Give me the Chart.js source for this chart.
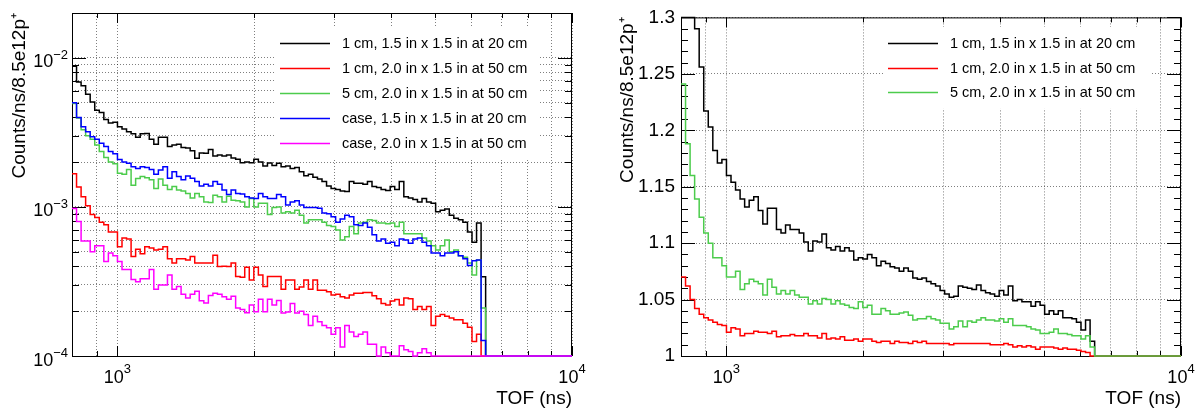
<!DOCTYPE html>
<html>
<head>
<meta charset="utf-8">
<script src="https://cdn.jsdelivr.net/npm/chart.js@4.4.1/dist/chart.umd.min.js"></script>
<style>
  body { margin: 0; background: #fff; }
  #wrap { position: relative; width: 1201px; height: 410px; }
  canvas { position: absolute; top: 0; }
  #left { left: 0; }
  #right { left: 600px; }
</style>
</head>
<body>
<div id="wrap">
  <canvas id="left" width="600" height="410"></canvas>
  <canvas id="right" width="601" height="410"></canvas>
</div>
<script>
const FONT = "'Liberation Sans', Arial, sans-serif";

// TOF histogram binning: 0.01 decade wide bins from 10^2.9 to 10^4 ns
const BIN_LO = 2.9;
const BIN_W = 0.01;
const N_BINS = 110;
const binEdges = Array.from({ length: N_BINS + 1 }, (_, i) => Math.pow(10, BIN_LO + i * BIN_W));

const labels = [
  "1 cm, 1.5 in x 1.5 in at 20 cm",
  "1 cm, 2.0 in x 1.5 in at 50 cm",
  "5 cm, 2.0 in x 1.5 in at 50 cm",
  "case, 1.5 in x 1.5 in at 20 cm",
  "case, 2.0 in x 1.5 in at 50 cm"
];
const colors = ["#000000", "#ff0000", "#4ccc4c", "#0000ff", "#ff00ff"];

// left panel: counts/ns/8.5e12p+
const rate1cm15at20 = [
  8.8e-3, 6.9e-3, 6.5e-3, 5.7e-3, 5.06e-3, 4.46e-3, 4.3e-3, 3.86e-3, 3.65e-3, 3.7e-3,
  3.45e-3, 3.33e-3, 3.2e-3, 3.1e-3, 2.93e-3, 3.1e-3, 3.11e-3, 2.85e-3, 2.63e-3, 2.93e-3,
  2.93e-3, 2.54e-3, 2.6e-3, 2.63e-3, 2.5e-3, 2.49e-3, 2.38e-3, 2.12e-3, 2.3e-3, 2.29e-3,
  2.43e-3, 2.2e-3, 2.23e-3, 2.2e-3, 2.23e-3, 2.13e-3, 2.09e-3, 1.98e-3, 2.0e-3, 1.98e-3,
  2.09e-3, 2.0e-3, 1.88e-3, 1.97e-3, 1.9e-3, 1.96e-3, 1.86e-3, 1.88e-3, 1.81e-3, 1.84e-3,
  1.72e-3, 1.62e-3, 1.66e-3, 1.58e-3, 1.54e-3, 1.48e-3, 1.38e-3, 1.33e-3, 1.31e-3, 1.28e-3,
  1.27e-3, 1.48e-3, 1.44e-3, 1.44e-3, 1.42e-3, 1.48e-3, 1.37e-3, 1.35e-3, 1.31e-3, 1.29e-3,
  1.37e-3, 1.31e-3, 1.48e-3, 1.17e-3, 1.15e-3, 1.12e-3, 1.08e-3, 1.14e-3, 1.08e-3, 1.06e-3,
  9.3e-4, 9.5e-4, 9.7e-4, 8.8e-4, 8.4e-4, 8.2e-4, 7.9e-4, 6.8e-4, 5.8e-4, 7.8e-4,
  3.4e-4, 0, 0, 0, 0, 0, 0, 0, 0, 0,
  0, 0, 0, 0, 0, 0, 0, 0, 0, 0
];
const rate1cm20at50 = [
  1.67e-3, 1.36e-3, 1.17e-3, 1.02e-3, 8.9e-4, 8.5e-4, 7.9e-4, 7.6e-4, 6.8e-4, 6.8e-4,
  5.4e-4, 6.2e-4, 6.1e-4, 4.65e-4, 5.2e-4, 4.85e-4, 5.4e-4, 5.3e-4, 5.15e-4, 5.2e-4,
  5.4e-4, 4.5e-4, 4.2e-4, 4.5e-4, 4.5e-4, 4.4e-4, 4.65e-4, 4.2e-4, 4.2e-4, 4.2e-4,
  4.2e-4, 4.75e-4, 3.98e-4, 4.0e-4, 3.98e-4, 4.2e-4, 3.42e-4, 3.37e-4, 3.94e-4, 3.24e-4,
  3.94e-4, 3.5e-4, 2.93e-4, 3.42e-4, 3.42e-4, 3.42e-4, 2.8e-4, 3.24e-4, 3.24e-4, 2.8e-4,
  2.9e-4, 3.24e-4, 2.8e-4, 3.24e-4, 2.76e-4, 2.76e-4, 2.7e-4, 2.57e-4, 2.6e-4, 2.5e-4,
  2.45e-4, 2.57e-4, 2.64e-4, 2.64e-4, 2.67e-4, 2.67e-4, 2.54e-4, 2.42e-4, 2.25e-4, 2.2e-4,
  2.34e-4, 2.39e-4, 2.2e-4, 2.45e-4, 2.42e-4, 2.05e-4, 2.15e-4, 2.05e-4, 2.15e-4, 1.6e-4,
  1.85e-4, 1.9e-4, 1.85e-4, 1.8e-4, 1.75e-4, 1.75e-4, 1.66e-4, 1.56e-4, 1.25e-4, 1.4e-4,
  0, 0, 0, 0, 0, 0, 0, 0, 0, 0,
  0, 0, 0, 0, 0, 0, 0, 0, 0, 0
];
const rate5cm20at50 = [
  4.95e-3, 3.95e-3, 3.3e-3, 3.0e-3, 2.85e-3, 2.6e-3, 2.35e-3, 2.15e-3, 2.0e-3, 1.95e-3,
  1.68e-3, 1.66e-3, 1.78e-3, 1.4e-3, 1.55e-3, 1.6e-3, 1.57e-3, 1.52e-3, 1.33e-3, 1.54e-3,
  1.4e-3, 1.31e-3, 1.37e-3, 1.3e-3, 1.28e-3, 1.23e-3, 1.15e-3, 1.23e-3, 1.17e-3, 1.08e-3,
  1.07e-3, 1.2e-3, 1.17e-3, 1.08e-3, 1.18e-3, 1.11e-3, 1.1e-3, 1.08e-3, 1.0e-3, 1.14e-3,
  1.0e-3, 1.06e-3, 1.06e-3, 8.9e-4, 9.9e-4, 1.0e-3, 9.1e-4, 9.3e-4, 9.1e-4, 9.5e-4,
  8.8e-4, 7.8e-4, 8.2e-4, 8.2e-4, 8.2e-4, 7.9e-4, 7.5e-4, 7.4e-4, 7.0e-4, 6.0e-4,
  6.3e-4, 7.4e-4, 6.6e-4, 7.8e-4, 7.9e-4, 8.2e-4, 8.1e-4, 7.8e-4, 7.8e-4, 7.7e-4,
  7.8e-4, 7.4e-4, 7.9e-4, 6.6e-4, 6.6e-4, 6.6e-4, 6.6e-4, 6.2e-4, 5.9e-4, 5.5e-4,
  5.15e-4, 5.5e-4, 6.0e-4, 5.0e-4, 5.15e-4, 4.7e-4, 4.6e-4, 4.2e-4, 3.5e-4, 4.4e-4,
  2.1e-4, 0, 0, 0, 0, 0, 0, 0, 0, 0,
  0, 0, 0, 0, 0, 0, 0, 0, 0, 0
];
const rateCase15at20 = [
  5.0e-3, 3.98e-3, 3.45e-3, 3.2e-3, 2.96e-3, 2.84e-3, 2.67e-3, 2.54e-3, 2.35e-3, 2.27e-3,
  2.08e-3, 2.0e-3, 1.96e-3, 1.86e-3, 1.81e-3, 1.86e-3, 1.84e-3, 1.78e-3, 1.66e-3, 1.77e-3,
  1.86e-3, 1.56e-3, 1.72e-3, 1.6e-3, 1.52e-3, 1.61e-3, 1.56e-3, 1.48e-3, 1.38e-3, 1.42e-3,
  1.38e-3, 1.48e-3, 1.42e-3, 1.3e-3, 1.21e-3, 1.3e-3, 1.23e-3, 1.22e-3, 1.17e-3, 1.15e-3,
  1.14e-3, 1.23e-3, 1.17e-3, 1.14e-3, 1.14e-3, 1.21e-3, 1.17e-3, 1.03e-3, 1.08e-3, 1.1e-3,
  1.03e-3, 9.9e-4, 9.9e-4, 9.9e-4, 9.8e-4, 9.1e-4, 9.0e-4, 8.6e-4, 7.9e-4, 8.3e-4,
  8.8e-4, 8.6e-4, 7.6e-4, 7.5e-4, 7.8e-4, 7.3e-4, 6.5e-4, 5.9e-4, 6.1e-4, 5.7e-4,
  5.8e-4, 5.5e-4, 6.1e-4, 6.0e-4, 5.7e-4, 6.1e-4, 6.2e-4, 5.8e-4, 5.5e-4, 4.9e-4,
  4.9e-4, 4.7e-4, 4.9e-4, 4.9e-4, 5.0e-4, 4.7e-4, 4.5e-4, 4.05e-4, 4.35e-4, 4.4e-4,
  1.27e-4, 0, 0, 0, 0, 0, 0, 0, 0, 0,
  0, 0, 0, 0, 0, 0, 0, 0, 0, 0
];
const rateCase20at50 = [
  9.75e-4, 8.0e-4, 5.9e-4, 5.9e-4, 5.0e-4, 5.5e-4, 5.5e-4, 4.3e-4, 4.9e-4, 4.7e-4,
  4.3e-4, 3.8e-4, 3.8e-4, 3.26e-4, 3.15e-4, 3.3e-4, 3.3e-4, 3.8e-4, 2.8e-4, 3.0e-4,
  3.0e-4, 3.5e-4, 2.8e-4, 2.93e-4, 2.6e-4, 2.45e-4, 2.6e-4, 2.72e-4, 2.35e-4, 2.27e-4,
  2.55e-4, 2.64e-4, 2.6e-4, 2.5e-4, 2.4e-4, 2.52e-4, 2.1e-4, 2.05e-4, 1.95e-4, 2.2e-4,
  1.98e-4, 2.4e-4, 1.98e-4, 2.4e-4, 2.2e-4, 2.36e-4, 1.94e-4, 1.97e-4, 2.25e-4, 1.94e-4,
  2.0e-4, 1.9e-4, 1.6e-4, 1.85e-4, 1.7e-4, 1.6e-4, 1.55e-4, 1.4e-4, 1.55e-4, 1.15e-4,
  1.6e-4, 1.45e-4, 1.35e-4, 1.4e-4, 1.45e-4, 1.2e-4, 1.2e-4, 0, 1.15e-4, 1.05e-4,
  0, 0, 1.17e-4, 1.1e-4, 1.07e-4, 0, 1.05e-4, 1.12e-4, 1.05e-4, 0,
  0, 0, 0, 0, 0, 0, 0, 0, 0, 0,
  0, 0, 0, 0, 0, 0, 0, 0, 0, 0,
  0, 0, 0, 0, 0, 0, 0, 0, 0, 0
];

// right panel: ratios
const ratio1cm15at20 = [
  1.38, 1.34, 1.31, 1.29, 1.256, 1.217, 1.203, 1.182, 1.171, 1.174,
  1.16, 1.154, 1.147, 1.139, 1.132, 1.138, 1.141, 1.129, 1.117, 1.131,
  1.131, 1.112, 1.109, 1.116, 1.112, 1.112, 1.109, 1.101, 1.093, 1.102,
  1.101, 1.108, 1.096, 1.094, 1.097, 1.093, 1.096, 1.093, 1.085, 1.087,
  1.086, 1.09, 1.087, 1.08, 1.084, 1.082, 1.079, 1.078, 1.075, 1.078,
  1.075, 1.069, 1.068, 1.069, 1.066, 1.064, 1.062, 1.058, 1.055, 1.052,
  1.053, 1.062, 1.061, 1.06, 1.059, 1.063, 1.058, 1.056, 1.055, 1.053,
  1.058, 1.054, 1.062, 1.049, 1.05, 1.048, 1.048, 1.044, 1.048, 1.045,
  1.037, 1.04, 1.037, 1.04, 1.034, 1.034, 1.033, 1.03, 1.023, 1.032,
  1.013, 0, 0, 0, 0, 0, 0, 0, 0, 0,
  0, 0, 0, 0, 0, 0, 0, 0, 0, 0
];
const ratio1cm20at50 = [
  1.07, 1.062, 1.05, 1.042, 1.037, 1.034, 1.032, 1.03, 1.028, 1.027,
  1.021, 1.025, 1.024, 1.018, 1.02, 1.02, 1.022, 1.021, 1.021, 1.02,
  1.022, 1.017, 1.018, 1.018, 1.019, 1.018, 1.018, 1.02, 1.018, 1.018,
  1.016, 1.02, 1.015, 1.016, 1.015, 1.017, 1.014, 1.014, 1.015, 1.013,
  1.015, 1.015, 1.013, 1.012, 1.013, 1.013, 1.011, 1.013, 1.012, 1.012,
  1.011, 1.013, 1.012, 1.013, 1.011, 1.011, 1.011, 1.011, 1.011, 1.01,
  1.011, 1.011, 1.011, 1.011, 1.011, 1.011, 1.011, 1.011, 1.01, 1.01,
  1.01, 1.011, 1.01, 1.008, 1.009, 1.008, 1.009, 1.008, 1.006, 1.008,
  1.008, 1.008, 1.007, 1.006, 1.007, 1.006, 1.006, 1.005, 1.004, 1.003,
  0, 0, 0, 0, 0, 0, 0, 0, 0, 0,
  0, 0, 0, 0, 0, 0, 0, 0, 0, 0
];
const ratio5cm20at50 = [
  1.241, 1.188, 1.16, 1.139, 1.123, 1.109, 1.1, 1.087, 1.087, 1.08,
  1.07, 1.07, 1.075, 1.059, 1.064, 1.068, 1.066, 1.064, 1.054, 1.068,
  1.061, 1.055, 1.058, 1.055, 1.058, 1.054, 1.052, 1.052, 1.046, 1.049,
  1.046, 1.051, 1.05, 1.046, 1.049, 1.046, 1.045, 1.043, 1.042, 1.048,
  1.043, 1.045, 1.037, 1.037, 1.042, 1.04, 1.037, 1.037, 1.038, 1.039,
  1.036, 1.032, 1.033, 1.033, 1.035, 1.033, 1.032, 1.029, 1.029, 1.024,
  1.026, 1.031, 1.026, 1.031, 1.03, 1.032, 1.034, 1.032, 1.032, 1.031,
  1.033, 1.03, 1.033, 1.027, 1.027, 1.027, 1.026, 1.024, 1.023, 1.02,
  1.02, 1.021, 1.024, 1.02, 1.02, 1.019, 1.018, 1.018, 1.015, 1.018,
  1.008, 0, 0, 0, 0, 0, 0, 0, 0, 0,
  0, 0, 0, 0, 0, 0, 0, 0, 0, 0
];

// axis ticks ("10" labels carry only their exponent here)
const xTicks = [900, 1000, 2000, 3000, 4000, 5000, 6000, 7000, 8000, 9000, 10000];
const xTickExp = ["", "3", "", "", "", "", "", "", "", "", "4"];
const yLogTicks = [
  1e-4, 2e-4, 3e-4, 4e-4, 5e-4, 6e-4, 7e-4, 8e-4, 9e-4,
  1e-3, 2e-3, 3e-3, 4e-3, 5e-3, 6e-3, 7e-3, 8e-3, 9e-3,
  1e-2, 2e-2
];
const yLogTickExp = [
  "\u22124", "", "", "", "", "", "", "", "",
  "\u22123", "", "", "", "", "", "", "", "",
  "\u22122", ""
];
const yRatioTicks = [1, 1.05, 1.1, 1.15, 1.2, 1.25, 1.3];
const yRatioTickLabels = ["1", "1.05", "1.1", "1.15", "1.2", "1.25", "1.3"];

// ROOT-like histogram outline: value held across each bin, under/overflow pinned to the frame
function histo(values, yMin, yMax) {
  const pts = values.map((v, i) => ({ x: binEdges[i], y: Math.min(Math.max(v, yMin), yMax) }));
  pts.push({ x: binEdges[N_BINS], y: pts[N_BINS - 1].y });
  return pts;
}

function makeDatasets(series, yMin, yMax) {
  return series.map((values, k) => ({
    label: labels[k],
    data: histo(values, yMin, yMax),
    borderColor: colors[k],
    borderWidth: 1.5,
    stepped: true,
    pointRadius: 0,
    fill: false,
    clip: false,
    order: series.length - k
  }));
}

// frame + inside tick marks, like a ROOT pad
const frameTicks = {
  id: "frameTicks",
  beforeDatasetsDraw(chart, args, opts) {
    const { ctx, chartArea: a, scales: { x, y } } = chart;
    ctx.save();
    ctx.strokeStyle = "#000";
    ctx.lineWidth = 1;
    ctx.beginPath();
    x.ticks.forEach(t => {
      const px = Math.round(x.getPixelForValue(t.value)) + 0.5;
      const len = t.major ? 10 : 5;
      ctx.moveTo(px, a.bottom); ctx.lineTo(px, a.bottom - len);
      ctx.moveTo(px, a.top); ctx.lineTo(px, a.top + len);
    });
    const yt = opts.minorStep
      ? Array.from({ length: Math.round((y.max - y.min) / opts.minorStep) + 1 }, (_, i) => {
          const v = y.min + i * opts.minorStep;
          return { value: v, major: Math.abs(v / opts.majorStep - Math.round(v / opts.majorStep)) < 1e-6 };
        })
      : y.ticks;
    yt.forEach(t => {
      const py = Math.round(y.getPixelForValue(t.value)) + 0.5;
      const len = t.major ? 14 : 7;
      ctx.moveTo(a.left, py); ctx.lineTo(a.left + len, py);
      ctx.moveTo(a.right, py); ctx.lineTo(a.right - len, py);
    });
    ctx.stroke();
    ctx.strokeRect(a.left + 0.5, a.top + 0.5, a.right - a.left - 1, a.bottom - a.top);
    ctx.restore();
  }
};

// "10" with a raised exponent, placed on the scale's tick positions
const powerLabels = {
  id: "powerLabels",
  afterDraw(chart, args, opts) {
    const { ctx, chartArea: a, scales } = chart;
    const base = "18px " + FONT;
    const sup = "13px " + FONT;
    ctx.save();
    ctx.fillStyle = "#000";
    ctx.textBaseline = "alphabetic";
    ctx.textAlign = "left";
    const widths = exp => {
      ctx.font = base;
      const w1 = ctx.measureText("10").width;
      ctx.font = sup;
      return [w1, ctx.measureText(exp).width];
    };
    scales.x.ticks.forEach((t, i) => {
      const exp = xTickExp[i];
      if (!exp) return;
      const [w1, w2] = widths(exp);
      const x0 = scales.x.getPixelForValue(t.value) - (w1 + w2) / 2;
      ctx.font = base; ctx.fillText("10", x0, a.bottom + 27);
      ctx.font = sup; ctx.fillText(exp, x0 + w1, a.bottom + 17);
    });
    if (opts.logY) {
      scales.y.ticks.forEach((t, i) => {
        const exp = yLogTickExp[i];
        if (!exp) return;
        const [w1, w2] = widths(exp);
        const py = scales.y.getPixelForValue(t.value);
        const xr = a.left - 4;
        ctx.font = sup; ctx.fillText(exp, xr - w2, py + 1);
        ctx.font = base; ctx.fillText("10", xr - w2 - w1, py + 9.5);
      });
    }
    ctx.restore();
  }
};

const boxLegend = {
  id: "boxLegend",
  afterDraw(chart, args, opts) {
    const { ctx } = chart;
    const sets = chart.data.datasets;
    ctx.save();
    ctx.fillStyle = "#fff";
    ctx.fillRect(opts.left, opts.top, opts.width, sets.length * opts.step + 8);
    ctx.font = "14.5px " + FONT;
    ctx.textBaseline = "middle";
    sets.forEach((ds, i) => {
      const yy = Math.round(opts.firstRow + i * opts.step) + 0.5;
      ctx.strokeStyle = ds.borderColor;
      ctx.lineWidth = 1.5;
      ctx.beginPath();
      ctx.moveTo(opts.left + 4, yy);
      ctx.lineTo(opts.left + 54, yy);
      ctx.stroke();
      ctx.fillStyle = "#000";
      ctx.fillText(ds.label, opts.left + 66, yy);
    });
    ctx.restore();
  }
};

const gridStyle = { color: "rgba(0,0,0,0.5)", lineWidth: 1, drawTicks: false };
const gridBorder = { display: false, dash: [1, 2] };

function xScale() {
  return {
    type: "logarithmic",
    min: binEdges[0],
    max: 1e4,
    afterBuildTicks: s => { s.ticks = xTicks.map((v, i) => ({ value: v, major: xTickExp[i] !== "" })); },
    afterFit: s => { s.height = 54; },
    ticks: { autoSkip: false, maxRotation: 0, minRotation: 0, callback: () => "" },
    grid: gridStyle,
    border: gridBorder,
    title: {
      display: true, text: "TOF (ns)", align: "end", color: "#000",
      font: { family: FONT, size: 19 }, padding: { top: 0, bottom: 0 }
    }
  };
}

function yTitle(pad) {
  return {
    display: true, text: "Counts/ns/8.5e12p\u207A", align: "end", color: "#000",
    font: { family: FONT, size: 19 }, padding: { top: pad, bottom: 0 }
  };
}

new Chart(document.getElementById("left"), {
  type: "line",
  data: {
    datasets: makeDatasets([rate1cm15at20, rate1cm20at50, rate5cm20at50, rateCase15at20, rateCase20at50], 1e-4, 2e-2)
  },
  options: {
    responsive: false,
    animation: false,
    layout: { padding: { top: 13, right: 28, bottom: 0, left: 0 } },
    scales: {
      x: xScale(),
      y: {
        type: "logarithmic",
        min: 1e-4,
        max: 2e-2,
        afterBuildTicks: s => { s.ticks = yLogTicks.map((v, i) => ({ value: v, major: yLogTickExp[i] !== "" })); },
        afterFit: s => { s.width = 72; },
        ticks: { autoSkip: false, callback: () => "" },
        grid: gridStyle,
        border: gridBorder,
        title: yTitle(8)
      }
    },
    plugins: {
      legend: { display: false },
      tooltip: { enabled: false },
      powerLabels: { logY: true },
      boxLegend: { left: 276, top: 27, width: 262, step: 24.9, firstRow: 43 }
    }
  },
  plugins: [frameTicks, powerLabels, boxLegend]
});

new Chart(document.getElementById("right"), {
  type: "line",
  data: {
    datasets: makeDatasets([ratio1cm15at20, ratio1cm20at50, ratio5cm20at50], 1, 1.3)
  },
  options: {
    responsive: false,
    animation: false,
    layout: { padding: { top: 13, right: 20, bottom: 0, left: 0 } },
    scales: {
      x: xScale(),
      y: {
        type: "linear",
        min: 1,
        max: 1.3,
        afterBuildTicks: s => { s.ticks = yRatioTicks.map(v => ({ value: v, major: true })); },
        afterFit: s => { s.width = 81; },
        ticks: {
          autoSkip: false, padding: 6, color: "#000",
          font: { family: FONT, size: 19 },
          callback: (v, i) => yRatioTickLabels[i]
        },
        grid: gridStyle,
        border: gridBorder,
        title: yTitle(16)
      }
    },
    plugins: {
      legend: { display: false },
      tooltip: { enabled: false },
      powerLabels: { logY: false },
      frameTicks: { minorStep: 0.01, majorStep: 0.05 },
      boxLegend: { left: 284, top: 27, width: 266, step: 24.6, firstRow: 43 }
    }
  },
  plugins: [frameTicks, powerLabels, boxLegend]
});
</script>
</body>
</html>
